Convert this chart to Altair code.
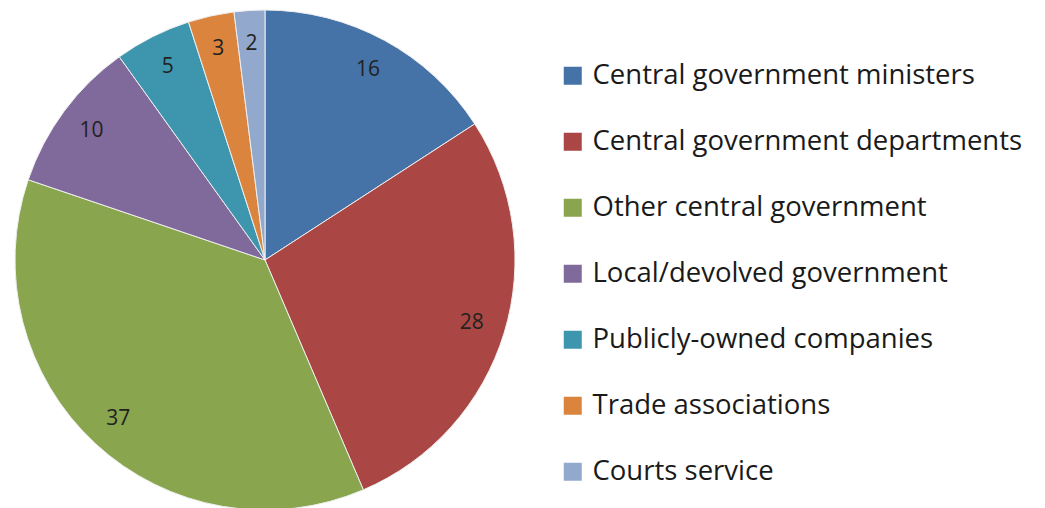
import altair as alt
import pandas as pd

categories = [
    "Central government ministers",
    "Central government departments",
    "Other central government",
    "Local/devolved government",
    "Publicly-owned companies",
    "Trade associations",
    "Courts service",
]
values = [16, 28, 37, 10, 5, 3, 2]
colors = ["#4572A7", "#AA4643", "#89A54E", "#80699B", "#3D96AE", "#DB843D", "#92A8CD"]

df = pd.DataFrame({
    "category": categories,
    "value": values,
    "order": list(range(len(categories))),
})

color_enc = alt.Color(
    "category:N",
    scale=alt.Scale(domain=categories, range=colors),
    sort=categories,
    legend=alt.Legend(
        title=None,
        orient="none",
        legendX=551,
        legendY=49,
        symbolType="square",
        symbolSize=324,
        symbolStrokeWidth=0,
        symbolOpacity=1,
        labelFontSize=27.5,
        labelFont="Open Sans",
        labelColor="#1a1a1a",
        labelLimit=600,
        labelOffset=6,
        rowPadding=37,
        padding=0,
    ),
)

base = alt.Chart(df).encode(
    theta=alt.Theta("value:Q", stack=True),
    order=alt.Order("order:Q"),
)

pie = base.mark_arc(outerRadius=250, stroke="#eeeeee", strokeWidth=1).encode(color=color_enc)

labels = base.mark_text(radius=216, fontSize=21, font="Open Sans", color="#222222").encode(
    text=alt.Text("value:Q")
)

chart = (
    alt.layer(pie, labels)
    .properties(width=514, height=494, padding={"left": 0, "top": 0, "right": 0, "bottom": 0})
    .configure_view(stroke=None)
    .configure(background="white")
)

chart.save("out.html", embed_options={"renderer": "svg", "actions": False})
